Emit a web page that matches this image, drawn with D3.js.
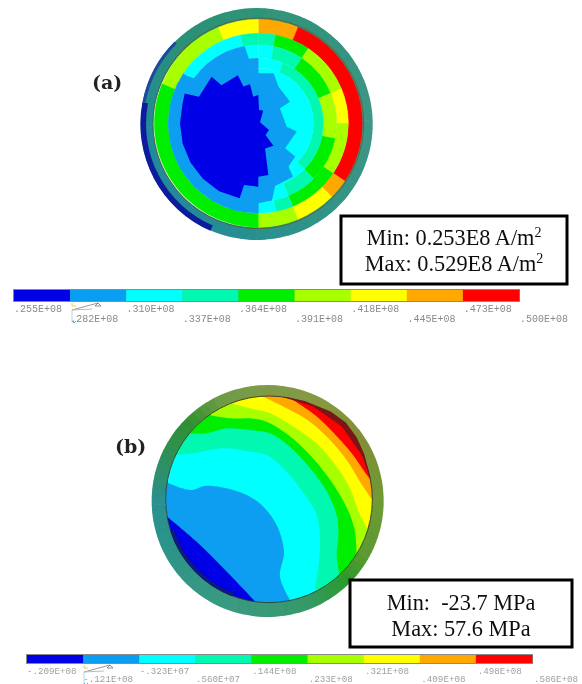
<!DOCTYPE html>
<html>
<head>
<meta charset="utf-8">
<script src="https://cdn.jsdelivr.net/npm/d3@7"></script>
<style>
html, body { margin: 0; padding: 0; background: #fff; }
svg { display: block; }
</style>
</head>
<body>
<svg id="chart" width="582" height="684"></svg>
<script>
// nine contour levels, coolest first
const levelColors = ["#0000e6", "#0a9ef2", "#00ffff", "#00f8b0", "#00ee00", "#a8ff00", "#ffff00", "#ffa800", "#ff0000"];

const ticksA = [".255E+08", ".282E+08", ".310E+08", ".337E+08", ".364E+08", ".391E+08", ".418E+08", ".445E+08", ".473E+08", ".500E+08"];
const ticksB = ["-.209E+08", "-.121E+08", "-.323E+07", ".560E+07", ".144E+08", ".233E+08", ".321E+08", ".409E+08", ".498E+08", ".586E+08"];

// panel a: element levels in 32 sectors (clockwise from top), outer ring first
const ringEdgesA = [312, 270, 235, 195, 165, 0];
const sectorLevelsA = [
  [7, 3, 2, 2, 2], [7, 4, 3, 2, 2], [8, 4, 3, 3, 2], [8, 5, 4, 3, 2],
  [8, 5, 4, 3, 2], [8, 5, 4, 3, 2], [8, 6, 5, 3, 2], [8, 6, 5, 3, 2],
  [8, 5, 5, 3, 2], [8, 5, 4, 3, 2], [8, 5, 4, 3, 2], [7, 4, 4, 3, 2],
  [6, 4, 3, 2, 2], [6, 4, 3, 2, 2], [5, 3, 2, 2, 2], [5, 2, 2, 2, 2],
  [4, 1, 1, 1, 1], [4, 1, 1, 1, 1], [4, 1, 1, 1, 1], [4, 1, 1, 1, 1],
  [4, 1, 1, 1, 1], [4, 1, 1, 1, 1], [4, 1, 1, 1, 1], [4, 1, 1, 1, 1],
  [4, 1, 1, 1, 1], [4, 1, 1, 1, 1], [5, 1, 1, 1, 1], [5, 2, 1, 1, 1],
  [5, 2, 1, 1, 1], [5, 2, 1, 1, 1], [6, 2, 1, 1, 1], [6, 3, 2, 1, 1]
];
// outlines of the two lowest levels, [degrees clockwise from top, radius]
const blueOutlineA = [
  [0, 150], [17, 157], [29, 125], [56, 115], [55, 79], [97, 86], [102, 118], [133, 110], [132, 149],
  [145, 158], [147, 191], [165, 195], [170, 235], [180, 240], [180, 270], [195, 270], [210, 270], [225, 270],
  [240, 270], [255, 270], [270, 270], [285, 270], [303, 268], [305, 235], [320, 235], [335, 235], [350, 235],
  [352, 190]
];
const coreOutlineA = [
  [0, 85], [3, 40], [21, 41], [60, 6], [122, 38], [148, 41], [146, 81], [165, 78], [169, 158], [180, 160],
  [180, 190], [193, 190], [194, 232], [210, 235], [225, 235], [240, 235], [255, 235], [270, 235], [285, 235],
  [292, 238], [294, 195], [315, 198], [316, 159], [337, 157], [338, 119], [348, 120], [349, 81]
];
const shellAnglesA = [0, 45, 90, 135, 180, 225, 270, 315, 360];
const shellColorsA = ["#2f9478", "#349480", "#3f9686", "#349484", "#28908e", "#22889a", "#228a98", "#2a9078", "#2f9478"];

// panel b: contour lines, model x/y, each one bounds the cooler side of a level
const contoursB = [
  [[470, 63], [555, 120], [612, 175], [665, 235], [700, 285], [722, 315]],
  [[395, 63], [470, 100], [540, 140], [600, 195], [650, 255], [690, 320], [727, 375]],
  [[300, 85], [360, 100], [420, 115], [490, 155], [560, 205], [620, 275], [660, 340], [690, 420], [715, 465]],
  [[238, 120], [300, 130], [360, 130], [410, 140], [475, 180], [540, 240], [590, 300], [630, 360], [660, 420], [675, 470], [680, 545]],
  [[182, 175], [230, 175], [290, 160], [360, 165], [420, 175], [485, 220], [540, 280], [585, 340], [620, 420], [625, 480], [620, 540], [628, 598]],
  [[135, 240], [190, 235], [280, 220], [360, 230], [410, 240], [470, 290], [525, 360], [560, 420], [570, 520], [555, 640]],
  [[110, 322], [180, 345], [230, 332], [310, 345], [360, 365], [400, 395], [440, 450], [462, 530], [450, 605], [480, 675]],
  [[108, 422], [200, 500], [300, 600], [378, 682]]
];
const contourLevelsB = [7, 6, 5, 4, 3, 2, 1, 0];
// dark band outside the red level, [degrees clockwise from top, radius]
const hotRimB = [[8, 309], [25, 309], [45, 309], [65, 309], [78, 309], [78, 311], [65, 316], [55, 322], [45, 326], [35, 322], [20, 314], [8, 311]];
const shellAnglesB = [0, 30, 60, 90, 120, 135, 160, 200, 240, 270, 290, 315, 335, 360];
const shellColorsB = ["#7f9a48", "#86983f", "#7f8f35", "#6f9a35", "#5a9a30", "#2a9a2a", "#35996a", "#3a9a80", "#2c9488", "#2a9090", "#2f9060", "#2f9030", "#6f9a45", "#7f9a48"];

const svg = d3.select("#chart");
const defs = svg.append("defs");
defs.append("filter").attr("id", "soft").append("feGaussianBlur").attr("stdDeviation", 0.55);
defs.append("filter").attr("id", "softText").append("feGaussianBlur").attr("stdDeviation", 0.3);

// shell ring, coloured by angle
function drawShell(g, r, angles, colors, inner, outer) {
  const colorAt = d3.scaleLinear().domain(angles).range(colors);
  const arc = d3.arc();
  d3.range(0, 360, 4).forEach(a => {
    g.append("path")
      .attr("d", arc({
        innerRadius: r(inner), outerRadius: r(outer),
        startAngle: a * Math.PI / 180, endAngle: (a + 4.3) * Math.PI / 180
      }))
      .attr("fill", colorAt(a + 2));
  });
}

function drawPanelA() {
  const r = d3.scaleLinear().domain([0, 348]).range([0, 116]);
  const sector = d3.scaleLinear().domain([0, sectorLevelsA.length]).range([0, 2 * Math.PI]);
  const arc = d3.arc();
  const root = svg.append("g").attr("filter", "url(#soft)");

  const shell = root.append("g").attr("transform", "translate(256.7,124)");
  drawShell(shell, r, shellAnglesA, shellColorsA, 310, 348);
  // navy crescent on the lower left
  shell.append("path")
    .attr("d", arc({ innerRadius: r(332), outerRadius: r(349), startAngle: 3.55, endAngle: 4.9 }))
    .attr("fill", "#0a1f9c");
  shell.append("path")
    .attr("d", arc({ innerRadius: r(340), outerRadius: r(349), startAngle: 4.9, endAngle: 5.5 }))
    .attr("fill", "#1a4a9c");

  const disc = root.append("g").attr("transform", "translate(258.3,123.3)");
  // merge neighbouring sectors of one level, so no seams show
  ringEdgesA.slice(1).forEach((inner, i) => {
    let start = 0;
    sectorLevelsA.forEach((levels, k) => {
      const next = sectorLevelsA[k + 1];
      if (next && next[i] === levels[i]) return;
      disc.append("path")
        .attr("d", arc({
          innerRadius: r(inner), outerRadius: r(ringEdgesA[i]),
          startAngle: sector(start), endAngle: sector(k + 1)
        }))
        .attr("fill", levelColors[levels[i]])
        .attr("stroke", levelColors[levels[i]])
        .attr("stroke-width", 0.4);
      start = k + 1;
    });
  });
  const radial = d3.lineRadial()
    .angle(d => d[0] * Math.PI / 180)
    .radius(d => r(d[1]))
    .curve(d3.curveLinearClosed);
  disc.append("path").attr("d", radial(blueOutlineA)).attr("fill", levelColors[1]);
  disc.append("path").attr("d", radial(coreOutlineA)).attr("fill", levelColors[0]);
  disc.append("circle")
    .attr("r", r(316))
    .attr("fill", "none")
    .attr("stroke", "#5f5a2a")
    .attr("stroke-opacity", 0.8)
    .attr("stroke-width", 1);
}

function drawPanelB() {
  const x = d3.scaleLinear().domain([0, 270]).range([130, 400]);
  const y = d3.scaleLinear().domain([0, 260]).range([375, 635]);
  const r = d3.scaleLinear().domain([0, 348]).range([0, 116]);
  const arc = d3.arc();
  const discX = 417, discY = 373, discR = 310;
  const scaleM = v => v / 3;
  const root = svg.append("g").attr("filter", "url(#soft)");

  const shell = root.append("g").attr("transform", `translate(${130 + scaleM(413)},${375 + scaleM(378)})`);
  drawShell(shell, r, shellAnglesB, shellColorsB, 300, 348);

  defs.append("clipPath").attr("id", "discB").append("circle")
    .attr("cx", x(scaleM(discX))).attr("cy", y(scaleM(discY))).attr("r", r(discR));

  const disc = root.append("g").attr("clip-path", "url(#discB)");
  const line = d3.line().x(d => x(scaleM(d[0]))).y(d => y(scaleM(d[1]))).curve(d3.curveCatmullRom);
  const poly = d3.line().x(d => x(scaleM(d[0]))).y(d => y(scaleM(d[1])));

  disc.append("circle")
    .attr("cx", x(scaleM(discX))).attr("cy", y(scaleM(discY))).attr("r", r(discR))
    .attr("fill", levelColors[8]);

  const outward = p => {
    const a = Math.atan2(p[1] - discY, p[0] - discX);
    return [p[0] + 500 * Math.cos(a), p[1] + 500 * Math.sin(a)];
  };
  contoursB.forEach((pts, i) => {
    const first = pts[0], last = pts[pts.length - 1];
    const closing = [last, outward(last), [1400, 1400], [-700, 1400], [-700, -700], outward(first), first];
    disc.append("path")
      .attr("d", line(pts) + "L" + poly(closing).slice(1) + "Z")
      .attr("fill", levelColors[contourLevelsB[i]]);
  });

  const edge = root.append("g").attr("transform", `translate(${x(scaleM(discX))},${y(scaleM(discY))})`);
  edge.append("circle")
    .attr("r", r(discR))
    .attr("fill", "none")
    .attr("stroke", "#2b3a30")
    .attr("stroke-width", 0.9);
  // darker rim where the section meets the shell
  edge.append("path")
    .attr("d", d3.lineRadial()
      .angle(d => d[0] * Math.PI / 180)
      .radius(d => r(d[1]))
      .curve(d3.curveLinearClosed)(hotRimB))
    .attr("fill", "#7a1515");
  edge.append("path")
    .attr("d", arc({ innerRadius: r(300), outerRadius: r(311), startAngle: 3.5, endAngle: 4.4 }))
    .attr("fill", "#0a1a78");
}

function drawLegend(ticks, x0, x1, barTop, barHeight, row1, row2, labelX, textColor, fontSize) {
  const band = d3.scaleBand().domain(d3.range(levelColors.length)).range([x0, x1]);
  const g = svg.append("g");
  g.append("rect")
    .attr("x", x0 - 1).attr("y", barTop - 1)
    .attr("width", x1 - x0 + 2).attr("height", barHeight + 2)
    .attr("fill", "#8a8a8a");
  g.selectAll("rect.cell").data(levelColors).join("rect")
    .attr("class", "cell")
    .attr("x", (d, i) => band(i))
    .attr("y", barTop)
    .attr("width", band.bandwidth() + 0.3)
    .attr("height", barHeight)
    .attr("fill", d => d);
  g.selectAll("text").data(ticks).join("text")
    .attr("x", (d, i) => labelX(i))
    .attr("y", (d, i) => i % 2 === 0 ? row1 : row2)
    .attr("font-family", "'Liberation Mono', monospace")
    .attr("font-size", fontSize)
    .attr("fill", textColor)
    .attr("filter", "url(#softText)")
    .text(d => d);
}

function drawArrow(px, py) {
  // small triad left in the plot under the legend
  const g = svg.append("g").attr("transform", `translate(${px},${py})`).attr("filter", "url(#softText)").attr("fill", "none");
  g.append("path").attr("d", "M0,8L26,1").attr("stroke", "#999");
  g.append("path").attr("d", "M0,8L20,7").attr("stroke", "#bbb");
  g.append("path").attr("d", "M26,1l-3,3h6z").attr("stroke", "#666").attr("stroke-width", 0.7);
  g.append("path").attr("d", "M0,1v3h4").attr("stroke", "#e8d840");
  g.append("path").attr("d", "M0,8v12").attr("stroke", "#a8dce8");
  g.append("path").attr("d", "M0,19l2,2l2,-2").attr("stroke", "#50b0e0");
}

function drawNote(x0, y0, w, h, lines) {
  const g = svg.append("g");
  g.append("rect")
    .attr("x", x0).attr("y", y0).attr("width", w).attr("height", h)
    .attr("fill", "#fff").attr("stroke", "#000").attr("stroke-width", 3);
  lines.forEach(l => {
    const t = g.append("text")
      .attr("x", x0 + w / 2)
      .attr("y", l.y)
      .attr("text-anchor", "middle")
      .attr("font-family", "'Liberation Serif', serif")
      .attr("font-size", 22.3)
      .attr("fill", "#111")
      .attr("filter", "url(#softText)")
      .style("white-space", "pre");
    t.append("tspan").text(l.text);
    if (l.sup) {
      t.append("tspan").attr("dy", -8).attr("font-size", 14).text(l.sup);
    }
  });
}

function drawTag(text, px, py) {
  svg.append("text")
    .attr("x", px).attr("y", py)
    .attr("font-family", "'DejaVu Serif', serif")
    .attr("font-weight", "bold")
    .attr("font-size", 19)
    .attr("fill", "#222")
    .attr("filter", "url(#softText)")
    .text(text);
}

drawPanelA();
drawPanelB();

const tickA = d3.scaleLinear().domain([0, 9]).range([14, 520]);
const tickB = d3.scaleLinear().domain([0, 9]).range([27, 534]);
drawLegend(ticksA, 14, 519, 290, 11, 312, 322, i => tickA(i), "#8a8a8a", 10);
drawLegend(ticksB, 27, 532, 655, 8, 674, 682, i => tickB(i), "#a0a0a0", 9.2);
drawArrow(72, 302);
drawArrow(84, 664);

drawNote(341, 216, 226, 68, [
  { text: "Min: 0.253E8 A/m", sup: "2", y: 245 },
  { text: "Max: 0.529E8 A/m", sup: "2", y: 271 }
]);
drawNote(350, 580, 222, 67, [
  { text: "Min:  -23.7 MPa", y: 610 },
  { text: "Max: 57.6 MPa", y: 636 }
]);

drawTag("(a)", 92, 89);
drawTag("(b)", 115, 453);
</script>
</body>
</html>
